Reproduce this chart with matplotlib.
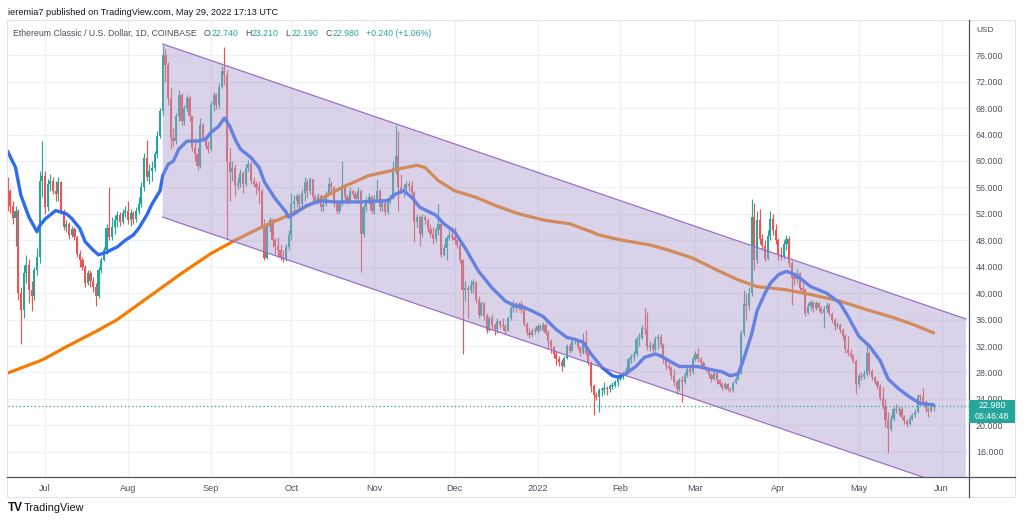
import matplotlib
matplotlib.use("Agg")
import matplotlib.pyplot as plt
import matplotlib.dates as mdates
from matplotlib.lines import Line2D
from matplotlib.patches import Rectangle, Polygon
from matplotlib.offsetbox import TextArea, HPacker, AnchoredOffsetbox
import numpy as np
import pandas as pd

plt.rcParams['font.family'] = ['Liberation Sans', 'DejaVu Sans']

# ETC/USD daily candles, Coinbase, 2021-06-17 .. 2022-05-29 (open = previous close)
start_day = '2021-06-17'
first_open = 56.8
close = [
    55.5, 53.2, 51.3, 52.5, 40.0, 37.5, 43.0, 44.2, 40.5, 39.6, 43.5, 45.5, 57.0, 57.8,  # Jun
    53.0, 56.5, 57.0, 55.5, 55.0, 56.8, 52.5, 50.0, 50.5, 48.8, 49.7, 48.5, 46.0, 45.0, 44.0, 41.5,
    43.0, 41.8, 41.0, 39.5, 43.5, 45.0, 46.5, 49.8, 48.5, 50.0, 51.0, 51.8, 50.8, 52.2, 52.5,  # Jul
    51.0, 52.2, 51.2, 52.5, 53.5, 56.0, 60.5, 57.5, 58.5, 59.0, 61.0, 63.8, 67.5, 76.0, 74.5, 69.5,
    63.5, 63.0, 66.8, 70.0, 66.0, 68.0, 69.5, 66.8, 62.0, 61.0, 59.3, 65.5, 63.5, 62.3, 61.8,  # Aug
    68.5, 70.0, 68.5, 71.2, 73.6, 73.0, 59.8, 58.3, 59.0, 56.3, 56.7, 58.2, 56.5, 59.0, 59.5,
    57.0, 56.5, 56.0, 55.5, 50.2, 45.3, 50.0, 51.0, 48.0, 47.2, 46.5, 45.5, 45.2, 47.0, 48.8,  # Sep
    53.5, 54.0, 54.7, 53.5, 55.2, 56.8, 55.5, 57.2, 54.5, 54.0, 54.7, 53.0, 53.5, 55.0, 56.5, 56.0,
    53.5, 52.5, 53.5, 56.0, 54.5, 54.0, 55.5, 55.0, 54.3, 55.5, 49.0, 53.0, 54.0, 54.5, 52.5,  # Oct
    54.2, 55.5, 53.0, 53.7, 52.3, 53.8, 54.5, 59.0, 60.7, 56.0, 55.5, 55.7, 56.5, 56.2, 55.2,
    50.7, 51.5, 49.0, 51.5, 51.0, 49.7, 49.0, 48.2, 49.5, 50.5, 45.8, 46.8, 48.3, 48.8, 48.5,  # Nov
    48.0, 47.3, 45.0, 40.5, 40.8, 40.5, 41.2, 41.7, 39.0, 36.7, 38.5, 36.5, 34.5, 36.2, 35.2, 34.6,
    35.8, 35.2, 35.0, 34.3, 36.2, 37.7, 38.5, 37.7, 38.3, 37.5, 35.3, 33.9, 33.6, 34.3, 34.2,  # Dec
    35.0, 34.5, 35.2, 34.0, 32.8, 31.8, 30.8, 30.0, 29.6, 29.0, 30.2, 32.0, 31.3, 32.7, 32.9, 31.8,
    31.0, 32.6, 31.0, 29.5, 26.0, 24.6, 24.3, 25.3, 25.3, 25.6, 25.5, 25.9, 26.1, 26.5, 27.0,  # Jan
    27.6, 27.9, 28.4, 30.0, 30.3, 30.8, 33.0, 33.2, 34.8, 34.6, 31.8, 32.2, 31.5, 33.0,
    33.3, 32.2, 30.0, 29.0, 28.7, 27.5, 26.5, 25.5, 26.8, 26.5, 27.6, 28.5, 28.0, 30.0,  # Feb
    30.8, 30.0, 29.5, 28.8, 28.3, 27.6, 27.0, 27.9, 26.8, 26.3, 25.7, 26.2, 25.5, 25.3, 26.4, 27.0,
    28.2, 34.0, 38.3, 38.0, 40.0, 51.5, 45.0, 51.0, 48.2, 47.2, 45.2, 48.7, 51.2, 49.5, 48.0,  # Mar
    45.8, 45.5, 47.5, 48.2, 44.5, 42.3, 42.2, 43.0, 40.8, 40.5, 37.0, 38.0, 38.6, 37.8, 38.5,
    37.7, 37.0, 37.6, 38.2, 36.8, 36.0, 35.0, 35.2, 34.5, 33.5, 31.5, 31.0, 30.5, 29.8, 26.2,  # Apr
    27.5, 27.3, 27.8, 31.0, 28.2, 27.3, 26.6, 26.0, 24.2, 23.0, 20.8, 19.5, 21.0, 22.4, 22.3,
    22.5, 21.3, 20.6, 20.2, 21.0, 21.5, 22.0, 24.5, 24.3, 23.5, 22.4, 22.2, 22.74, 22.98,  # May
]
high = [
    57.5, 55.8, 54.0, 53.2, 52.8, 41.0, 44.2, 45.8, 45.2, 41.8, 44.0, 46.8, 58.5, 63.0,
    58.5, 57.3, 58.0, 57.5, 57.0, 57.5, 57.0, 52.8, 51.0, 50.8, 50.2, 50.0, 48.6, 46.5, 45.5, 44.3,
    43.5, 43.5, 42.5, 41.5, 44.0, 45.5, 47.0, 50.5, 56.0, 51.5, 51.8, 52.5, 52.3, 52.8, 53.2,
    54.0, 52.8, 52.5, 53.0, 54.5, 56.8, 61.2, 63.2, 59.5, 60.0, 61.5, 64.5, 68.0, 77.5, 77.0, 75.0,
    71.0, 65.0, 67.2, 70.8, 70.3, 68.5, 70.0, 69.8, 66.5, 63.5, 62.0, 66.5, 65.8, 63.8, 63.0,
    69.0, 70.5, 70.3, 71.8, 74.3, 77.2, 73.8, 62.0, 60.0, 59.5, 57.5, 58.8, 58.5, 59.5, 60.2,
    59.8, 57.5, 57.0, 57.0, 55.8, 51.2, 50.8, 51.5, 51.3, 48.3, 48.5, 47.5, 46.5, 47.5, 49.5,
    55.2, 54.8, 55.2, 55.0, 55.8, 57.5, 57.2, 57.6, 57.3, 55.0, 55.2, 55.0, 54.0, 55.5, 57.5, 57.0,
    56.2, 53.8, 54.0, 60.0, 56.5, 55.0, 56.0, 55.8, 55.5, 56.0, 55.8, 53.5, 54.5, 55.2, 54.8,
    54.8, 57.2, 55.8, 54.2, 54.0, 54.2, 55.0, 60.0, 65.5, 64.5, 58.0, 56.5, 57.0, 57.0, 57.0,
    55.5, 52.0, 51.8, 52.0, 51.8, 51.3, 50.5, 50.0, 50.0, 53.5, 50.8, 47.5, 48.8, 49.5, 50.0,
    50.0, 48.5, 47.6, 45.2, 41.8, 41.2, 42.0, 42.2, 41.8, 39.5, 38.8, 38.7, 37.0, 36.5, 36.8, 35.5,
    36.2, 36.0, 36.2, 35.3, 36.6, 38.0, 39.0, 38.7, 38.6, 38.8, 38.2, 35.6, 34.8, 34.8, 34.9,
    35.3, 35.4, 35.6, 35.5, 34.5, 33.0, 32.0, 31.2, 30.5, 30.0, 30.5, 32.3, 32.4, 33.0, 33.3, 33.0,
    32.0, 34.0, 34.5, 31.5, 29.8, 26.2, 25.0, 25.6, 25.8, 26.5, 26.0, 26.3, 26.5, 26.8, 27.3,
    28.0, 28.2, 28.8, 30.3, 30.8, 31.2, 33.5, 34.0, 35.2, 37.7, 37.2, 32.8, 32.5, 33.5,
    33.8, 33.8, 32.5, 30.3, 29.4, 29.0, 28.5, 26.8, 27.2, 27.5, 28.0, 29.0, 29.2, 30.5,
    31.2, 31.7, 30.4, 29.7, 29.0, 28.5, 27.9, 28.2, 28.4, 27.0, 26.6, 26.5, 26.4, 25.8, 26.7, 27.4,
    28.5, 34.5, 40.5, 40.0, 41.0, 54.2, 53.7, 52.5, 52.7, 49.0, 48.0, 49.5, 52.5, 52.0, 50.5,
    48.3, 47.0, 48.0, 48.8, 48.6, 44.8, 43.2, 43.6, 43.2, 41.5, 40.8, 38.5, 39.0, 38.8, 38.8,
    38.7, 38.0, 38.0, 38.6, 38.5, 37.2, 36.3, 35.6, 35.5, 34.8, 33.8, 33.5, 31.5, 30.8, 30.0,
    27.9, 28.0, 28.4, 32.2, 31.2, 28.5, 27.5, 26.9, 26.2, 25.8, 24.0, 22.0, 21.6, 22.8, 23.2,
    23.0, 22.8, 21.6, 21.0, 21.4, 21.8, 22.4, 24.8, 24.8, 25.7, 23.8, 22.8, 23.0, 23.21,
]
low = [
    52.5, 52.2, 50.5, 47.2, 39.0, 32.3, 36.2, 41.5, 38.5, 37.3, 39.0, 42.8, 44.5, 54.5,
    52.0, 52.5, 55.5, 55.0, 54.0, 54.0, 52.0, 49.5, 49.2, 48.2, 48.5, 48.0, 45.5, 44.0, 43.5, 41.0,
    41.2, 41.0, 40.2, 38.0, 39.2, 43.0, 44.8, 46.0, 48.0, 48.0, 49.0, 50.0, 50.2, 50.5, 51.5,
    50.5, 50.2, 50.5, 50.8, 52.0, 53.0, 55.5, 57.0, 56.5, 57.0, 58.5, 60.5, 63.5, 67.0, 72.0, 68.5,
    61.8, 62.2, 62.5, 66.0, 65.5, 65.5, 67.5, 66.0, 61.5, 60.0, 58.7, 59.0, 63.0, 61.8, 61.2,
    61.5, 67.5, 67.8, 68.0, 71.0, 71.5, 48.2, 54.0, 57.0, 54.7, 55.8, 56.0, 55.2, 56.2, 58.5,
    56.5, 56.0, 55.0, 53.7, 49.8, 45.0, 45.2, 49.2, 47.0, 46.0, 45.5, 45.0, 44.7, 44.8, 46.5,
    48.0, 52.5, 53.0, 52.8, 53.0, 54.0, 54.5, 55.0, 54.0, 53.5, 53.5, 52.5, 52.5, 53.2, 54.8, 55.5,
    53.0, 52.0, 52.2, 53.2, 54.0, 53.5, 53.8, 54.5, 54.0, 54.0, 43.2, 48.5, 52.5, 53.5, 52.0,
    52.0, 54.0, 52.5, 52.5, 51.8, 52.0, 53.5, 54.2, 58.0, 52.5, 55.0, 54.5, 55.0, 55.5, 54.8,
    47.7, 50.0, 47.2, 48.5, 50.5, 49.2, 48.5, 47.5, 47.8, 48.8, 45.5, 45.6, 45.0, 48.0, 48.0,
    47.5, 46.8, 44.5, 30.8, 38.8, 36.3, 40.0, 40.0, 38.5, 36.2, 36.5, 36.0, 34.0, 34.2, 34.5, 33.7,
    34.0, 34.8, 34.5, 33.8, 34.2, 36.0, 37.2, 37.2, 37.4, 37.0, 35.0, 33.6, 33.2, 33.3, 33.8,
    33.9, 34.2, 34.3, 33.7, 31.5, 31.0, 30.2, 29.2, 29.0, 28.2, 28.8, 30.0, 31.0, 31.2, 32.3, 31.5,
    30.5, 30.8, 30.6, 29.2, 25.0, 21.5, 23.8, 22.0, 24.5, 24.8, 24.6, 25.0, 25.5, 25.8, 26.0,
    26.8, 27.0, 27.5, 28.2, 29.5, 29.8, 30.5, 32.0, 33.0, 33.8, 31.4, 31.2, 31.0, 31.2,
    31.5, 31.8, 29.5, 28.6, 28.3, 27.0, 26.0, 24.8, 25.2, 23.5, 26.3, 27.3, 27.5, 27.8,
    29.8, 29.6, 29.0, 28.5, 28.0, 27.2, 26.5, 26.8, 26.3, 26.0, 25.3, 25.5, 25.2, 25.0, 25.1, 26.2,
    26.8, 27.8, 33.5, 36.0, 37.5, 39.5, 43.5, 44.5, 47.5, 46.5, 44.8, 45.0, 48.0, 48.8, 47.5,
    45.0, 45.0, 45.2, 46.5, 44.0, 38.2, 41.2, 41.5, 40.0, 40.0, 36.5, 36.8, 37.5, 37.2, 37.5,
    37.3, 36.8, 34.7, 37.2, 36.5, 35.5, 34.5, 34.7, 34.0, 33.0, 31.0, 30.5, 30.2, 29.5, 24.8,
    25.8, 26.8, 27.0, 27.5, 27.8, 26.9, 26.2, 25.5, 23.8, 22.5, 19.8, 15.8, 19.2, 20.6, 21.8,
    21.5, 21.0, 20.2, 19.8, 20.0, 20.8, 21.2, 21.8, 23.6, 23.2, 22.0, 21.3, 22.0, 22.19,
]

# blue moving average
blue_dates = [
    '2021-06-17', '2021-06-20', '2021-06-22', '2021-06-25', '2021-06-28', '2021-06-29', '2021-07-01',
    '2021-07-05', '2021-07-09', '2021-07-11', '2021-07-14', '2021-07-16', '2021-07-19', '2021-07-21',
    '2021-07-24', '2021-07-28', '2021-07-31', '2021-08-03', '2021-08-05', '2021-08-08', '2021-08-10',
    '2021-08-13', '2021-08-14', '2021-08-16', '2021-08-18', '2021-08-20', '2021-08-23', '2021-08-27',
    '2021-08-30', '2021-09-01', '2021-09-04', '2021-09-06', '2021-09-08', '2021-09-10', '2021-09-12',
    '2021-09-16', '2021-09-19', '2021-09-21', '2021-09-25', '2021-09-29', '2021-09-30', '2021-10-02',
    '2021-10-07', '2021-10-12', '2021-10-17', '2021-10-22', '2021-10-27', '2021-11-01', '2021-11-06',
    '2021-11-09', '2021-11-12', '2021-11-15', '2021-11-18', '2021-11-24', '2021-11-27', '2021-12-01',
    '2021-12-05', '2021-12-10', '2021-12-15', '2021-12-20', '2021-12-24', '2021-12-26', '2021-12-30',
    '2022-01-03', '2022-01-08', '2022-01-12', '2022-01-15', '2022-01-18', '2022-01-21', '2022-01-25',
    '2022-01-29', '2022-01-31', '2022-02-03', '2022-02-07', '2022-02-10', '2022-02-14', '2022-02-16',
    '2022-02-19', '2022-02-23', '2022-02-26', '2022-03-02', '2022-03-06', '2022-03-11', '2022-03-14',
    '2022-03-17', '2022-03-19', '2022-03-22', '2022-03-24', '2022-03-27', '2022-03-29', '2022-04-01',
    '2022-04-04', '2022-04-06', '2022-04-09', '2022-04-13', '2022-04-19', '2022-04-24', '2022-04-27',
    '2022-05-01', '2022-05-05', '2022-05-09', '2022-05-12', '2022-05-16', '2022-05-20', '2022-05-24',
    '2022-05-29',
]
blue_vals = [
    61.5, 59.0, 54.8, 51.5, 49.3, 50.2, 51.2,
    52.5, 52.0, 51.3, 49.8, 47.8, 46.5, 45.8,
    46.2, 47.0, 48.0, 48.8, 49.8, 51.8, 53.5,
    55.5, 57.8, 59.5, 60.0, 61.8, 63.0, 63.0,
    63.3, 64.3, 65.3, 66.5, 65.3, 63.3, 61.8,
    60.5, 59.0, 56.8, 54.3, 52.3, 51.5, 52.0,
    53.3, 54.0, 53.8, 53.8, 53.8, 53.9, 54.0,
    55.0, 55.5, 54.5, 53.0, 51.8, 50.5, 49.3,
    46.8, 43.3, 40.8, 38.8, 38.0, 38.0, 37.3,
    36.5, 34.5, 33.3, 33.0, 32.6, 30.8, 28.8,
    27.5, 27.3, 27.8, 29.0, 30.3, 30.8, 30.5,
    29.8, 28.9, 28.9, 28.9, 28.5, 28.1, 27.5,
    27.8, 30.0, 33.8, 37.3, 40.0, 41.5, 42.8,
    43.3, 43.0, 42.3, 41.0, 40.0, 38.5, 36.5,
    33.5, 32.0, 29.8, 27.0, 25.5, 24.3, 23.3,
    23.1,
]

# orange long moving average
orange_dates = [
    '2021-06-17', '2021-06-30', '2021-07-09', '2021-07-20', '2021-07-28', '2021-08-09', '2021-08-21',
    '2021-09-01', '2021-09-10', '2021-09-20', '2021-09-30', '2021-10-10', '2021-10-20', '2021-10-30',
    '2021-11-06', '2021-11-10', '2021-11-17', '2021-11-20', '2021-11-25', '2021-12-01', '2021-12-09',
    '2021-12-16', '2021-12-25', '2022-01-04', '2022-01-13', '2022-01-21', '2022-01-24', '2022-02-01',
    '2022-02-12', '2022-02-19', '2022-02-28', '2022-03-09', '2022-03-17', '2022-03-24', '2022-04-04',
    '2022-04-13', '2022-04-24', '2022-05-04', '2022-05-14', '2022-05-21', '2022-05-29',
]
orange_vals = [
    27.9, 29.9, 31.9, 34.2, 36.0, 39.5, 43.0,
    46.0, 48.0, 50.0, 51.8, 53.8, 56.0, 57.8,
    58.4, 58.8, 59.35, 59.0, 57.0, 55.5, 54.5,
    53.3, 52.0, 51.0, 50.5, 49.3, 48.8, 48.05,
    47.3, 46.5, 45.3, 43.5, 42.0, 41.0, 40.5,
    39.8, 38.8, 37.5, 36.3, 35.3, 34.0,
]

# descending channel drawn on the chart
channel_dates = ['2021-08-14', '2022-06-10']
channel_upper = [77.7, 36.1]
channel_lower = [51.5, 9.95]

last_open, last_high, last_low, last_close = 22.74, 23.21, 22.19, 22.98
change, change_pct = 0.24, 1.06
countdown = '06:46:48'

price_ticks = list(range(16, 80, 4))
month_ticks = ['2021-07-01', '2021-08-01', '2021-09-01', '2021-10-01', '2021-11-01', '2021-12-01',
               '2022-01-01', '2022-02-01', '2022-03-01', '2022-04-01', '2022-05-01', '2022-06-01']
month_labels = ['Jul', 'Aug', 'Sep', 'Oct', 'Nov', 'Dec', '2022', 'Feb', 'Mar', 'Apr', 'May', 'Jun']

UP = '#26a69a'
DOWN = '#ef5350'
BLUE = '#2f6bef'
ORANGE = '#f57c00'
GRID = '#eef1f7'
TEXT = '#131722'
AXIS_TEXT = '#50535e'

W, H = 1024, 524


def fx(px):
    return px / W


def fy(py):
    return 1 - py / H


fig = plt.figure(figsize=(W / 100, H / 100), dpi=100)
fig.patch.set_facecolor('white')
ax = fig.add_axes([fx(8), fy(476.5), fx(969) - fx(8), fy(20) - fy(476.5)])

dates = pd.date_range(start_day, periods=len(close), freq='D')
x = mdates.date2num(dates)
c = np.array(close)
o = np.concatenate([[first_open], c[:-1]])
h = np.maximum(np.array(high), np.maximum(o, c))
l = np.minimum(np.array(low), np.minimum(o, c))
colors = np.where(c >= o, UP, DOWN)

ax.vlines(x, l, h, colors=colors, linewidth=0.85, zorder=2)
ax.bar(x, np.maximum(np.abs(c - o), 0.18), bottom=np.minimum(o, c), width=0.8,
       color=colors, linewidth=0, zorder=3)

ax.plot(mdates.date2num(pd.to_datetime(orange_dates)), orange_vals, color=ORANGE,
        linewidth=2.3, solid_capstyle='round', zorder=4)
ax.plot(mdates.date2num(pd.to_datetime(blue_dates)), blue_vals, color=BLUE,
        linewidth=2.4, solid_capstyle='round', solid_joinstyle='round', zorder=5)

# channel shading lies over the series, which is why the lines inside look paler
cx = mdates.date2num(pd.to_datetime(channel_dates))
poly = Polygon([(cx[0], channel_upper[0]), (cx[1], channel_upper[1]),
                (cx[1], channel_lower[1]), (cx[0], channel_lower[0])],
               closed=True, facecolor='#ab9dcc', alpha=0.45, edgecolor='none', zorder=6)
ax.add_patch(poly)
ax.plot(cx, channel_upper, color='#9c6fc8', linewidth=0.9, zorder=7)
ax.plot(cx, channel_lower, color='#9c6fc8', linewidth=0.9, zorder=7)

ax.axhline(last_close, color=UP, linestyle=(0, (1, 2)), linewidth=0.9, zorder=8)

x0 = mdates.date2num(pd.Timestamp(start_day))
ax.set_xlim(x0 + 0.18, x0 + 359.2)
ax.set_ylim(12.26, 81.33)

ax.set_xticks(mdates.date2num(pd.to_datetime(month_ticks)))
ax.set_xticklabels(month_labels)
ax.set_yticks(price_ticks)
ax.set_yticklabels([f'{v:.3f}' for v in price_ticks])
ax.yaxis.tick_right()
ax.tick_params(axis='x', length=0, pad=5.5, labelsize=6.6, labelcolor=AXIS_TEXT)
ax.tick_params(axis='y', length=0, pad=5, labelsize=6.4, labelcolor=AXIS_TEXT)
for lab in ax.get_yticklabels():
    lab.set_horizontalalignment('left')
ax.grid(True, color=GRID, linewidth=0.9)
ax.set_axisbelow(True)
for sp in ax.spines.values():
    sp.set_visible(False)

# frame and axis lines of the chart window
fig.add_artist(Rectangle((fx(7), fy(497)), fx(1015) - fx(7), fy(20) - fy(497), transform=fig.transFigure,
                         facecolor='none', edgecolor='#e0e3eb', linewidth=0.8, zorder=1))
fig.add_artist(Line2D([fx(7), fx(1015)], [fy(476.5), fy(476.5)], color='#50535e', linewidth=0.9, zorder=3))
fig.add_artist(Line2D([fx(969), fx(969)], [fy(20), fy(497)], color='#50535e', linewidth=0.9, zorder=3))

fig.text(fx(976), fy(30), 'USD', fontsize=6, color=AXIS_TEXT, va='center', ha='left')

# last price label on the price axis (covers part of the 24.000 label, as on the chart)
fig.add_artist(Rectangle((fx(969), fy(423)), fx(1015) - fx(969), fy(400) - fy(423),
                         transform=fig.transFigure, facecolor=UP, edgecolor='none', zorder=5))
fig.text(fx(992), fy(406), f'{last_close:.3f}', fontsize=6.5, color='white', ha='center', va='center', zorder=6)
fig.text(fx(992), fy(416.5), countdown, fontsize=6.3, color='white', ha='center', va='center', zorder=6)

# header and footer
fig.text(fx(8), fy(12.5), 'ieremia7 published on TradingView.com, May 29, 2022 17:13 UTC',
         fontsize=6.6, color=TEXT, va='center', ha='left')
fig.text(fx(8), fy(508), 'TV', fontsize=8.5, fontweight='heavy', color=TEXT, va='center', ha='left')
fig.text(fx(24), fy(508), 'TradingView', fontsize=7.8, color=TEXT, va='center', ha='left')

# legend line with OHLC values
TITLE_GREY = '#4a4e59'
fs = 6.3
groups = [TextArea('Ethereum Classic / U.S. Dollar, 1D, COINBASE',
                   textprops=dict(color=TITLE_GREY, fontsize=fs))]
for lab, val in [('O', last_open), ('H', last_high), ('L', last_low), ('C', last_close)]:
    groups.append(HPacker(children=[TextArea(lab, textprops=dict(color=TITLE_GREY, fontsize=fs)),
                                    TextArea(f'{val:.3f}', textprops=dict(color=UP, fontsize=fs))],
                          pad=0, sep=0.5))
groups.append(TextArea(f'+{change:.3f} (+{change_pct:.2f}%)', textprops=dict(color=UP, fontsize=fs)))
legend_row = HPacker(children=groups, pad=0, sep=5, align='baseline')
anch = AnchoredOffsetbox(loc='center left', child=legend_row, pad=0, borderpad=0, frameon=False,
                         bbox_to_anchor=(fx(13), fy(33)), bbox_transform=fig.transFigure)
anch.set_zorder(10)
ax.add_artist(anch)

fig.savefig('out.png', dpi=100, facecolor='white')
